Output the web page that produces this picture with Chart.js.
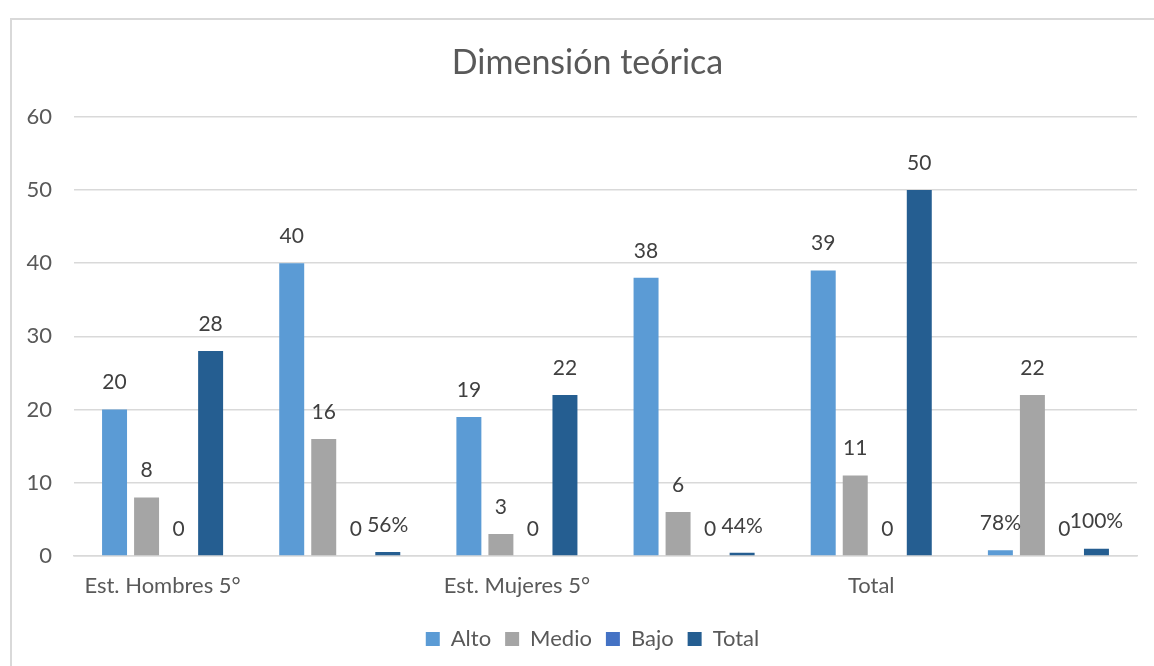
<!DOCTYPE html>
<html>
<head>
<meta charset="utf-8">
<script src="https://cdn.jsdelivr.net/npm/chart.js@4.4.0/dist/chart.umd.min.js"></script>
<style>
  html, body { margin: 0; padding: 0; background: #fff; overflow: hidden; }
  #frame { position: absolute; left: 10px; top: 18px; width: 1200px; height: 700px;
           border-left: 2px solid #d9d9d9; border-top: 2px solid #d9d9d9; }
  #wrap { position: absolute; left: 0; top: 0; width: 1154px; height: 666px; }
</style>
</head>
<body>
<div id="frame"></div>
<div id="wrap"><canvas id="dimChart"></canvas></div>
<script>
// data
var categories = ['Est. Hombres 5°', '', 'Est. Mujeres 5°', '', 'Total', ''];
var alto  = [20, 40, 19, 38, 39, 0.78];
var medio = [8, 16, 3, 6, 11, 22];
var bajo  = [0, 0, 0, 0, 0, 0];
var total = [28, 0.56, 22, 0.44, 50, 1];

// text shown on top of each bar
var altoLabels  = ['20', '40', '19', '38', '39', '78%'];
var medioLabels = ['8', '16', '3', '6', '11', '22'];
var bajoLabels  = ['0', '0', '0', '0', '0', '0'];
var totalLabels = ['28', '56%', '22', '44%', '50', '100%'];

var yTicks = [0, 10, 20, 30, 40, 50, 60];

var FONT = 'Lato';

// draws the value labels above every bar
var barLabels = {
  id: 'barLabels',
  afterDatasetsDraw: function (chart) {
    var ctx = chart.ctx;
    ctx.save();
    ctx.font = '21px ' + FONT;
    ctx.fillStyle = '#404040';
    ctx.textAlign = 'center';
    ctx.textBaseline = 'middle';
    chart.data.datasets.forEach(function (ds, i) {
      var meta = chart.getDatasetMeta(i);
      meta.data.forEach(function (bar, j) {
        ctx.fillText(ds.valueLabels[j], bar.x, bar.y - 27);
      });
    });
    ctx.restore();
  }
};

// title and legend sit a bit right of the canvas centre in the original
var blockShift = {
  id: 'blockShift',
  afterLayout: function (chart) {
    var t = chart.titleBlock;
    if (t) { t.left += 19; t.right += 19; }
    var l = chart.legend;
    if (l) { l.left += 24; l.right += 24; }
  }
};

var ctx = document.getElementById('dimChart').getContext('2d');
var dimChart = new Chart(ctx, {
  type: 'bar',
  data: {
    labels: categories,
    datasets: [
      { label: 'Alto',  data: alto,  valueLabels: altoLabels,  backgroundColor: '#5B9BD5' },
      { label: 'Medio', data: medio, valueLabels: medioLabels, backgroundColor: '#A5A5A5' },
      { label: 'Bajo',  data: bajo,  valueLabels: bajoLabels,  backgroundColor: '#4472C4' },
      { label: 'Total', data: total, valueLabels: totalLabels, backgroundColor: '#255E91' }
    ]
  },
  options: {
    responsive: true,
    maintainAspectRatio: false,
    animation: false,
    categoryPercentage: 0.723,
    barPercentage: 0.78,
    layout: {
      padding: { left: 0, right: 17, top: 0, bottom: 6 }
    },
    scales: {
      x: {
        grid: { display: false },
        border: { color: '#d9d9d9', width: 1.5 },
        ticks: {
          autoSkip: false,
          maxRotation: 0,
          padding: 9,
          color: '#595959',
          font: { family: FONT, size: 22 }
        },
        afterFit: function (scale) { scale.height = 58; }
      },
      y: {
        min: 0,
        max: 60,
        afterBuildTicks: function (scale) {
          scale.ticks = yTicks.map(function (v) { return { value: v }; });
        },
        grid: { color: '#d9d9d9', lineWidth: 1.5, drawTicks: false },
        border: { display: false },
        ticks: {
          padding: 22,
          color: '#595959',
          font: { family: FONT, size: 22 }
        },
        afterFit: function (scale) { scale.width = 74; }
      }
    },
    plugins: {
      title: {
        display: true,
        text: 'Dimensión teórica',
        color: '#595959',
        font: { family: FONT, size: 34, weight: 'normal' },
        padding: { top: 43, bottom: 33 }
      },
      legend: {
        position: 'bottom',
        labels: {
          color: '#595959',
          font: { family: FONT, size: 22 },
          boxWidth: 14,
          boxHeight: 14,
          padding: 14
        }
      },
      tooltip: { enabled: false }
    }
  },
  plugins: [barLabels, blockShift]
});
</script>
</body>
</html>
